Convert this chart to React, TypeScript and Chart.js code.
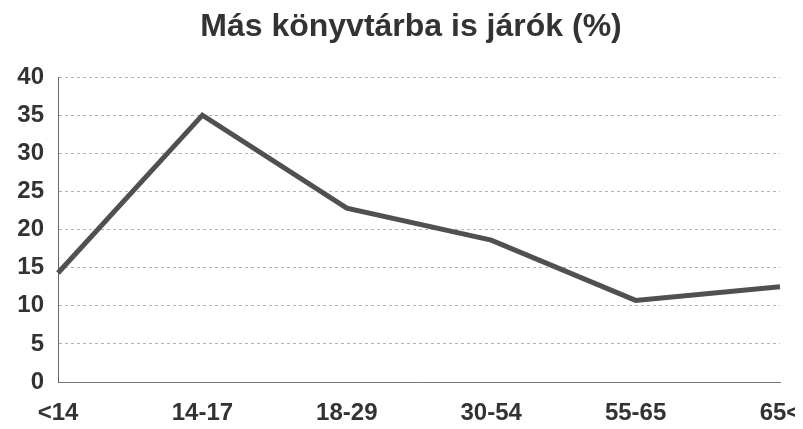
import React, { useEffect, useRef } from "react";
import { Chart, registerables } from "chart.js";

Chart.register(...registerables);

const title = "Más könyvtárba is járók (%)";
const categories = ["<14", "14-17", "18-29", "30-54", "55-65", "65<"];
const values = [14.3, 35, 22.8, 18.6, 10.7, 12.5];
const yMin = 0;
const yMax = 40;
const yStep = 5;

export default function App() {
  const ref = useRef<HTMLCanvasElement | null>(null);
  useEffect(() => {
    if (!ref.current) return;
    const chart = new Chart(ref.current, {
      type: "line",
      data: {
        labels: categories,
        datasets: [
          {
            data: values,
            borderColor: "#505050",
            borderWidth: 5,
            pointRadius: 0,
            fill: false,
            tension: 0,
          },
        ],
      },
      options: {
        animation: false,
        responsive: false,
        layout: { padding: { left: 0, right: 15, top: 0, bottom: 0 } },
        plugins: {
          legend: { display: false },
          tooltip: { enabled: false },
          title: {
            display: true,
            text: title,
            color: "#333333",
            font: { family: "Liberation Sans", size: 32, weight: "bold" },
            padding: { top: 0, bottom: 30.6 },
          },
        },
        scales: {
          x: {
            offset: false,
            grid: { display: false, drawTicks: false },
            border: { display: true, color: "#777", dash: [3, 3], width: 1 },
            ticks: {
              color: "#333333",
              font: { family: "Liberation Sans", size: 24, weight: "bold" },
              padding: 17,
              maxRotation: 0,
              autoSkip: false,
            },
            afterFit: (s: any) => {
              s.paddingRight = 0;
              s.paddingLeft = 0;
              s.height = 47;
            },
          },
          y: {
            min: yMin,
            max: yMax,
            ticks: {
              stepSize: yStep,
              color: "#333333",
              font: { family: "Liberation Sans", size: 24, weight: "bold" },
              padding: 14,
            },
            grid: { color: "rgba(0,0,0,0.3)", drawTicks: false, lineWidth: 1 },
            border: { display: true, color: "#666", dash: [3, 3], width: 1 },
            afterFit: (s: any) => {
              s.width = 50;
            },
          },
        },
      },
      plugins: [
        {
          id: "dashGrid",
          beforeDraw: (c: any) => {
            c.options.scales.y.grid.borderDash = [6, 6];
          },
        },
        {
          id: "shiftTitle",
          afterLayout: (c: any) => {
            if (c.titleBlock) {
              c.titleBlock.left = c.titleBlock.left + 34;
            }
          },
        },
      ],
    });
    return () => chart.destroy();
  }, []);
  return <canvas ref={ref} width={787} height={421} style={{ width: 787, height: 421, display: "block" }} />;
}
